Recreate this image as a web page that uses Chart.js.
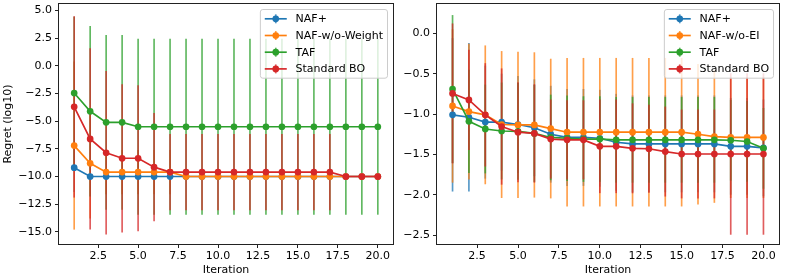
<!DOCTYPE html>
<html>
<head>
<meta charset="utf-8">
<script src="https://cdn.jsdelivr.net/npm/chart.js@4.4.1/dist/chart.umd.min.js"></script>
<style>
  html, body { margin: 0; padding: 0; background: #fff; }
  #wrap { position: relative; width: 793px; height: 278px; overflow: hidden; }
  canvas { position: absolute; top: 0; }
  #left  { left: 0;     width: 400px; height: 278px; }
  #right { left: 400px; width: 393px; height: 278px; }
</style>
</head>
<body>
<div id="wrap">
  <canvas id="left" width="400" height="278"></canvas>
  <canvas id="right" width="393" height="278"></canvas>
</div>
<script>
// regret curves — two panels, errorbars drawn by a small plugin

const iterations = [1, 2, 3, 4, 5, 6, 7, 8, 9, 10, 11, 12, 13, 14, 15, 16, 17, 18, 19, 20];
const xTicks = [2.5, 5, 7.5, 10, 12.5, 15, 17.5, 20];
const yTicksLeft  = [5, 2.5, 0, -2.5, -5, -7.5, -10, -12.5, -15];
const yTicksRight = [0, -0.5, -1, -1.5, -2, -2.5];

const labelsLeft  = ['NAF+', 'NAF-w/o-Weight', 'TAF', 'Standard BO'];
const labelsRight = ['NAF+', 'NAF-w/o-EI', 'TAF', 'Standard BO'];

// left panel (mean, +/- error)
const nafLeft      = [-9.2, -10, -10, -10, -10, -10, -10, -10, -10, -10, -10, -10, -10, -10, -10, -10, -10, -10, -10, -10];
const nafLeftErr   = [2.2, 0, 0, 0, 0, 0, 0, 0, 0, 0, 0, 0, 0, 0, 0, 0, 0, 0, 0, 0];
const woWLeft      = [-7.2, -8.8, -9.6, -9.6, -9.6, -9.6, -9.6, -10, -10, -10, -10, -10, -10, -10, -10, -10, -10, -10, -10, -10];
const woWLeftErr   = [7.6, 5.0, 2.0, 2.0, 2.0, 2.0, 2.0, 0, 0, 0, 0, 0, 0, 0, 0, 0, 0, 0, 0, 0];
const tafLeft      = [-2.45, -4.1, -5.1, -5.1, -5.5, -5.5, -5.5, -5.5, -5.5, -5.5, -5.5, -5.5, -5.5, -5.5, -5.5, -5.5, -5.5, -5.5, -5.5, -5.5];
const tafLeftErr   = [6.9, 7.7, 7.9, 7.9, 7.95, 7.95, 7.95, 7.95, 7.95, 7.95, 7.95, 7.95, 7.95, 7.95, 7.95, 7.95, 7.95, 7.95, 7.95, 7.95];
const boLeft       = [-3.7, -6.6, -7.85, -8.35, -8.35, -9.15, -9.6, -9.6, -9.6, -9.6, -9.6, -9.6, -9.6, -9.6, -9.6, -9.6, -9.6, -10, -10, -10];
const boLeftErr    = [8.2, 8.2, 7.4, 6.7, 6.6, 4.9, 3.45, 3.45, 3.45, 3.45, 3.45, 3.45, 3.45, 3.45, 3.45, 3.45, 3.45, 0, 0, 0];

// right panel
const nafRight     = [-1.01, -1.04, -1.10, -1.10, -1.13, -1.17, -1.25, -1.29, -1.29, -1.30, -1.35, -1.37, -1.37, -1.37, -1.37, -1.37, -1.37, -1.40, -1.40, -1.42];
const nafRightErr  = [0.95, 0.92, 0.7, 0.6, 0.6, 0.6, 0.6, 0.6, 0.6, 0.6, 0.6, 0.6, 0.6, 0.6, 0.6, 0.6, 0.6, 0.6, 0.6, 0.6];
const woEIRight    = [-0.90, -0.97, -1.01, -1.13, -1.135, -1.135, -1.18, -1.225, -1.225, -1.225, -1.225, -1.225, -1.225, -1.225, -1.225, -1.25, -1.28, -1.29, -1.29, -1.29];
const woEIRightErr = [0.95, 0.84, 0.86, 0.91, 0.905, 0.9, 0.865, 0.92, 0.92, 0.92, 0.92, 0.92, 0.92, 0.92, 0.92, 0.87, 0.82, 0.75, 0.75, 0.75];
const tafRight     = [-0.69, -1.09, -1.185, -1.21, -1.215, -1.24, -1.29, -1.30, -1.31, -1.31, -1.32, -1.32, -1.32, -1.32, -1.32, -1.32, -1.32, -1.325, -1.34, -1.425];
const tafRightErr  = [0.916, 0.64, 0.55, 0.6, 0.6, 0.6, 0.53, 0.53, 0.53, 0.53, 0.53, 0.53, 0.53, 0.53, 0.53, 0.53, 0.53, 0.5, 0.5, 0.5];
const boRight      = [-0.745, -0.825, -1.01, -1.155, -1.225, -1.24, -1.31, -1.32, -1.32, -1.40, -1.40, -1.425, -1.43, -1.465, -1.495, -1.495, -1.495, -1.495, -1.495, -1.495];
const boRightErr   = [0.867, 0.62, 0.64, 0.72, 0.62, 0.61, 0.49, 0.49, 0.49, 0.58, 0.58, 0.557, 0.545, 0.557, 0.55, 0.55, 0.55, 1.0, 1.0, 1.0];

const COLORS = ['#1f77b4', '#ff7f0e', '#2ca02c', '#d62728'];
const FONT = 'DejaVu Sans';
const LW = 1.67;

Chart.defaults.font.family = FONT;
Chart.defaults.font.size = 11;
Chart.defaults.color = '#000';
Chart.defaults.animation = false;

function rgba(hex, a) {
  const n = parseInt(hex.slice(1), 16);
  return `rgba(${n >> 16},${(n >> 8) & 255},${n & 255},${a})`;
}

const fmt = v => v.toFixed(1).replace('-', '\u2212');

// vertical error bars, drawn under all the lines (like matplotlib zorder)
const errorBars = {
  id: 'errorBars',
  beforeDatasetsDraw(chart) {
    const { ctx, chartArea: a, scales: { x, y } } = chart;
    ctx.save();
    ctx.beginPath(); ctx.rect(a.left, a.top, a.width, a.height); ctx.clip();
    ctx.lineWidth = LW;
    chart.data.datasets.forEach(ds => {
      ctx.strokeStyle = ds.errColor;
      ds.data.forEach((p, i) => {
        const e = ds.err[i];
        if (!e) return;
        const px = x.getPixelForValue(p.x);
        ctx.beginPath();
        ctx.moveTo(px, y.getPixelForValue(p.y + e));
        ctx.lineTo(px, y.getPixelForValue(p.y - e));
        ctx.stroke();
      });
    });
    ctx.restore();
  }
};

// box around the axes
const spines = {
  id: 'spines',
  afterDatasetsDraw(chart) {
    const { ctx, chartArea: a } = chart;
    ctx.save();
    ctx.strokeStyle = '#222';
    ctx.lineWidth = 1;
    ctx.strokeRect(Math.round(a.left) - 0.5, Math.round(a.top) - 0.5,
                   Math.round(a.width) + 1, Math.round(a.height) + 1);
    ctx.restore();
  }
};

// matplotlib-like legend in the upper right
const boxLegend = {
  id: 'boxLegend',
  afterDraw(chart) {
    const { ctx, chartArea: a } = chart;
    const items = chart.data.datasets;
    const fs = 11, pad = 0.4 * fs, hl = 2 * fs, htp = 0.8 * fs, pitch = 16.7, rowOff = 9.3;
    ctx.save();
    ctx.font = `${fs}px "${FONT}"`;
    const textW = Math.max(...items.map(d => ctx.measureText(d.label).width));
    const w = pad + hl + htp + textW + pad;
    const h = 2 * rowOff + pitch * (items.length - 1);
    const x0 = a.right - 0.5 * fs - w, y0 = a.top + 0.5 * fs;
    ctx.beginPath();
    ctx.roundRect(x0, y0, w, h, 2.5);
    ctx.fillStyle = 'rgba(255,255,255,0.8)';
    ctx.fill();
    ctx.strokeStyle = '#cccccc';
    ctx.lineWidth = 1;
    ctx.stroke();
    items.forEach((d, i) => {
      const cy = y0 + rowOff + i * pitch, hx = x0 + pad, cx = hx + hl / 2;
      ctx.lineWidth = LW;
      ctx.strokeStyle = d.errColor;
      ctx.beginPath(); ctx.moveTo(cx, cy - 4.5); ctx.lineTo(cx, cy + 4.5); ctx.stroke();
      ctx.strokeStyle = d.borderColor;
      ctx.beginPath(); ctx.moveTo(hx, cy); ctx.lineTo(hx + hl, cy); ctx.stroke();
      ctx.fillStyle = d.borderColor;
      ctx.beginPath(); ctx.arc(cx, cy, 3.35, 0, Math.PI * 2); ctx.fill();
      ctx.fillStyle = '#000';
      ctx.textBaseline = 'middle';
      ctx.fillText(d.label, hx + hl + htp, cy + 0.5);
    });
    ctx.restore();
  }
};

function buildPanel(id, p) {
  const datasets = p.labels.map((label, i) => ({
    label,
    data: iterations.map((x, j) => ({ x, y: p.means[i][j] })),
    err: p.errs[i],
    errColor: rgba(COLORS[i], 0.75),
    borderColor: COLORS[i],
    backgroundColor: COLORS[i],
    borderWidth: LW,
    pointRadius: 3.35,
    pointHoverRadius: 3.35,
    pointBorderWidth: 0,
    tension: 0,
    order: 4 - i,
  }));

  const tickGrid = { drawOnChartArea: false, drawTicks: true, tickLength: 4, tickColor: '#222', tickWidth: 1 };

  return new Chart(document.getElementById(id), {
    type: 'line',
    data: { datasets },
    options: {
      responsive: false,
      devicePixelRatio: 1,
      events: [],
      layout: { padding: { top: 4, right: p.padRight, bottom: 0, left: 0 } },
      plugins: { legend: { display: false }, tooltip: { enabled: false } },
      scales: {
        x: {
          type: 'linear', min: 0.05, max: 20.95,
          afterBuildTicks: s => { s.ticks = xTicks.map(value => ({ value })); },
          afterFit: s => { s.height = 34; s.paddingLeft = 0; s.paddingRight = 0; },
          grid: tickGrid,
          border: { display: false },
          ticks: { callback: fmt, padding: 2, maxRotation: 0, autoSkip: false },
          title: { display: true, text: 'Iteration', padding: { top: 0, bottom: 1 } },
        },
        y: {
          type: 'linear', min: p.yMin, max: p.yMax,
          afterBuildTicks: s => { s.ticks = p.yTicks.map(value => ({ value })); },
          afterFit: s => { s.width = p.yWidth; s.paddingTop = 0; s.paddingBottom = 0; },
          grid: tickGrid,
          border: { display: false },
          ticks: { callback: fmt, padding: 3, autoSkip: false },
          title: { display: !!p.yTitle, text: p.yTitle || '', padding: { top: 2, bottom: 0 } },
        }
      }
    },
    plugins: [errorBars, spines, boxLegend]
  });
}

buildPanel('left', {
  labels: labelsLeft,
  means: [nafLeft, woWLeft, tafLeft, boLeft],
  errs: [nafLeftErr, woWLeftErr, tafLeftErr, boLeftErr],
  yTicks: yTicksLeft, yMin: -16.1, yMax: 5.6,
  yTitle: 'Regret (log10)', yWidth: 59, padRight: 7,
});

buildPanel('right', {
  labels: labelsRight,
  means: [nafRight, woEIRight, tafRight, boRight],
  errs: [nafRightErr, woEIRightErr, tafRightErr, boRightErr],
  yTicks: yTicksRight, yMin: -2.61, yMax: 0.363,
  yTitle: null, yWidth: 37, padRight: 14,
});
</script>
</body>
</html>
